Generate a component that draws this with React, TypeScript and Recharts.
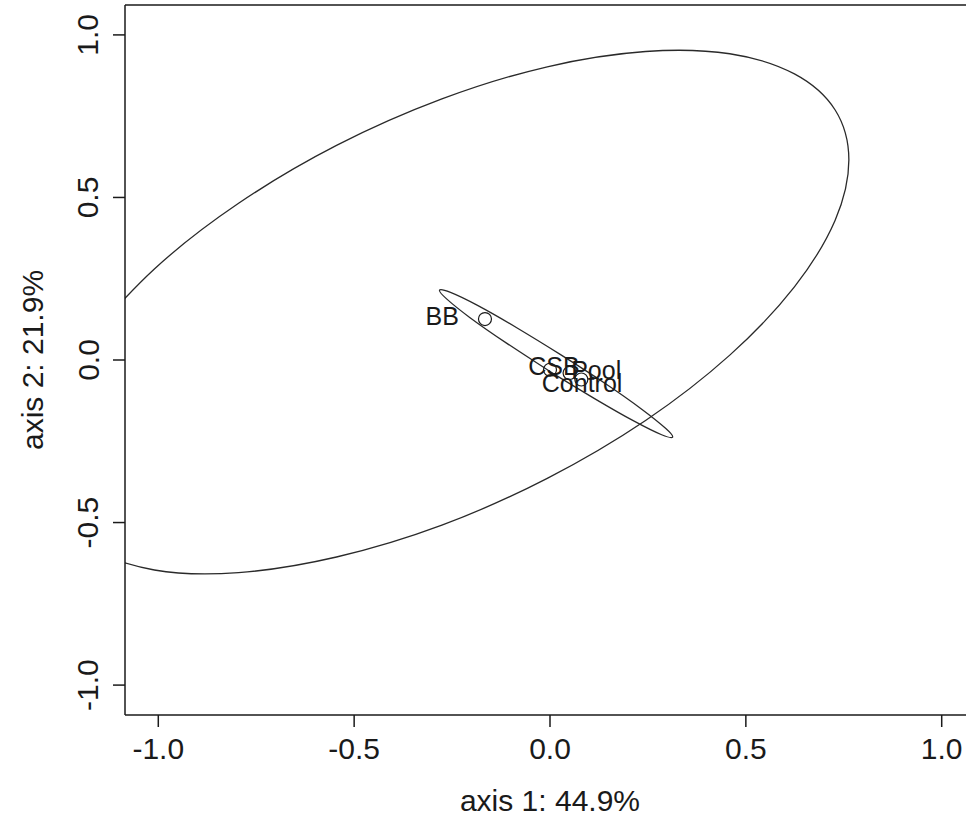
import React from 'react'
import { ComposedChart, Line, Scatter, XAxis, YAxis, ReferenceLine, Label } from 'recharts'

// axis ticks and limits (R style, 4% padding)
const axisTicks = [-1, -0.5, 0, 0.5, 1]
const xLimits = [-1.085, 1.085]
const yLimits = [-1.092, 1.092]

// outer ellipse; it runs past the left border and is clipped there
const outerEllipse = [
  { x: -1.176, y: 0.07 },
  { x: -1.01, y: 0.28 },
  { x: -0.795, y: 0.482 },
  { x: -0.545, y: 0.66 },
  { x: -0.276, y: 0.803 },
  { x: -0.007, y: 0.902 },
  { x: 0.244, y: 0.949 },
  { x: 0.459, y: 0.942 },
  { x: 0.624, y: 0.88 },
  { x: 0.728, y: 0.769 },
  { x: 0.763, y: 0.615 },
  { x: 0.728, y: 0.43 },
  { x: 0.624, y: 0.225 },
  { x: 0.459, y: 0.015 },
  { x: 0.244, y: -0.186 },
  { x: -0.007, y: -0.364 },
  { x: -0.276, y: -0.508 },
  { x: -0.545, y: -0.606 },
  { x: -0.795, y: -0.654 },
  { x: -1.01, y: -0.646 },
  { x: -1.176, y: -0.585 },
]

// thin inner ellipse, closed
const innerEllipse = [
  { x: 0.002, y: -0.037 },
  { x: -0.111, y: 0.052 },
  { x: -0.205, y: 0.131 },
  { x: -0.264, y: 0.188 },
  { x: -0.282, y: 0.215 },
  { x: -0.254, y: 0.208 },
  { x: -0.185, y: 0.168 },
  { x: -0.086, y: 0.1 },
  { x: 0.029, y: 0.015 },
  { x: 0.142, y: -0.073 },
  { x: 0.235, y: -0.152 },
  { x: 0.295, y: -0.21 },
  { x: 0.313, y: -0.237 },
  { x: 0.285, y: -0.23 },
  { x: 0.216, y: -0.189 },
  { x: 0.117, y: -0.121 },
  { x: 0.002, y: -0.037 },
]

// sample points
const samplePoints = [
  { x: -0.166, y: 0.126 },
  { x: 0.0, y: -0.03 },
  { x: 0.05, y: -0.04 },
  { x: 0.08, y: -0.06 },
]

// group labels (text centres)
const groupLabels = [
  { x: -0.275, y: 0.135, name: 'BB' },
  { x: 0.01, y: -0.018, name: 'CSB' },
  { x: 0.118, y: -0.031, name: 'Pool' },
  { x: 0.082, y: -0.071, name: 'Control' },
]

const FONT = '"Liberation Sans", Arial, sans-serif'
const INK = '#1a1a1a'

function XTick({ x, y, payload }: any) {
  return (
    <text x={x} y={y + 21} textAnchor="middle" dominantBaseline="central" fontSize={30} fill={INK} fontFamily={FONT}>
      {Number(payload.value).toFixed(1)}
    </text>
  )
}

function YTick({ x, y, payload }: any) {
  const cx = x - 25
  return (
    <text
      x={cx}
      y={y}
      transform={`rotate(-90, ${cx}, ${y})`}
      textAnchor="middle"
      dominantBaseline="central"
      fontSize={30}
      fill={INK}
      fontFamily={FONT}
    >
      {Number(payload.value).toFixed(1)}
    </text>
  )
}

function HollowDot({ cx, cy }: any) {
  return <circle cx={cx} cy={cy} r={6.5} fill="none" stroke={INK} strokeWidth={1.2} />
}

function GroupText({ cx, cy, payload }: any) {
  return (
    <text x={cx} y={cy} textAnchor="middle" dominantBaseline="central" fontSize={25} fill={INK} fontFamily={FONT}>
      {payload.name}
    </text>
  )
}

export default function App() {
  return (
    <div style={{ position: 'absolute', left: 0, top: 0, width: 966, height: 817, overflow: 'hidden', background: '#fff' }}>
      <ComposedChart width={1000} height={817} margin={{ top: 5, right: 25, left: 0, bottom: 0 }}>
        <XAxis
          type="number"
          dataKey="x"
          domain={xLimits}
          ticks={axisTicks}
          allowDataOverflow
          height={102}
          tickSize={12}
          tickMargin={0}
          stroke={INK}
          strokeWidth={1.5}
          tick={<XTick />}
          interval={0}
        >
          <Label
            content={({ viewBox }: any) => (
              <text
                x={viewBox.x + viewBox.width / 2}
                y={viewBox.y + 85}
                textAnchor="middle"
                dominantBaseline="central"
                fontSize={30}
                fill={INK}
                fontFamily={FONT}
              >
                axis 1: 44.9%
              </text>
            )}
          />
        </XAxis>
        <YAxis
          type="number"
          dataKey="y"
          domain={yLimits}
          ticks={axisTicks}
          allowDataOverflow
          width={125}
          tickSize={12}
          tickMargin={0}
          stroke={INK}
          strokeWidth={1.5}
          tick={<YTick />}
          interval={0}
        >
          <Label
            content={({ viewBox }: any) => {
              const cx = 32
              const cy = viewBox.y + viewBox.height / 2
              return (
                <text
                  x={cx}
                  y={cy}
                  transform={`rotate(-90, ${cx}, ${cy})`}
                  textAnchor="middle"
                  dominantBaseline="central"
                  fontSize={30}
                  fill={INK}
                  fontFamily={FONT}
                >
                  axis 2: 21.9%
                </text>
              )
            }}
          />
        </YAxis>
        <ReferenceLine y={yLimits[1]} stroke={INK} strokeWidth={1.5} ifOverflow="extendDomain" />
        <Line
          data={outerEllipse}
          dataKey="y"
          type="natural"
          stroke="#2a2a2a"
          strokeWidth={1.3}
          dot={false}
          activeDot={false}
          isAnimationActive={false}
        />
        <Line
          data={innerEllipse}
          dataKey="y"
          type="natural"
          stroke="#2a2a2a"
          strokeWidth={1.3}
          dot={false}
          activeDot={false}
          isAnimationActive={false}
        />
        <Scatter data={samplePoints} dataKey="y" shape={<HollowDot />} isAnimationActive={false} />
        <Scatter data={groupLabels} dataKey="y" shape={<GroupText />} isAnimationActive={false} />
      </ComposedChart>
    </div>
  )
}
